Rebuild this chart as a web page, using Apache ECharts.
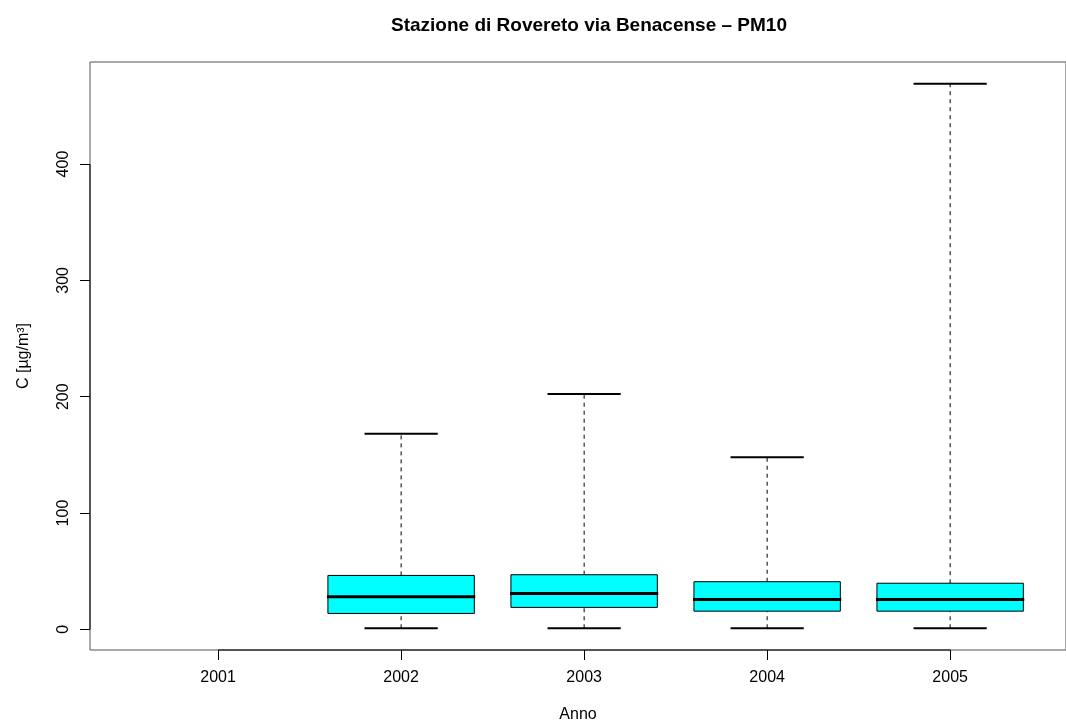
<!DOCTYPE html>
<html>
<head>
<meta charset="utf-8">
<script src="https://cdn.jsdelivr.net/npm/echarts@6/dist/echarts.min.js"></script>
<style>
    html, body { margin: 0; padding: 0; background: #fff; }
    #chart { width: 1066px; height: 728px; }
</style>
</head>
<body>
<div id="chart"></div>
<script>
// Dati (boxplot annuali PM10)
const years = ['2001', '2002', '2003', '2004', '2005'];
const lowWhisker = [null, 1, 1, 1, 1];
const q1 = [null, 13.7, 18.9, 15.7, 15.7];
const median = [null, 28.1, 30.9, 25.8, 25.8];
const q3 = [null, 46.4, 47.0, 41.0, 39.7];
const highWhisker = [null, 168.2, 202.3, 147.9, 469.0];
const yTicks = [0, 100, 200, 300, 400];

// posizioni 1..5 per le categorie, come in R
const xPositions = years.map((y, i) => i + 1);

// limiti degli assi (range di R esteso del 4%)
const X_MIN = 0.3, X_MAX = 5.633;
const Y_MIN = -17.7, Y_MAX = 487.7;

const boxData = [];
years.forEach((y, i) => {
    if (q1[i] == null) return;
    boxData.push([xPositions[i], lowWhisker[i], q1[i], median[i], q3[i], highWhisker[i]]);
});

const BOX_HALF = 0.4;
const CAP_HALF = 0.2;

function seg(a, b, style) {
    return {
        type: 'line',
        shape: { x1: a[0], y1: a[1], x2: b[0], y2: b[1] },
        style: Object.assign({ stroke: '#000', lineWidth: 1 }, style)
    };
}

function renderBox(params, api) {
    const x = api.value(0);
    const lo = api.value(1), b1 = api.value(2), md = api.value(3), b3 = api.value(4), hi = api.value(5);
    const p = (vx, vy) => api.coord([vx, vy]);
    const tl = p(x - BOX_HALF, b3);
    const br = p(x + BOX_HALF, b1);
    return {
        type: 'group',
        children: [
            seg(p(x, b3), p(x, hi), { lineDash: [4, 4] }),
            seg(p(x, lo), p(x, b1), { lineDash: [4, 4] }),
            seg(p(x - CAP_HALF, hi), p(x + CAP_HALF, hi), { lineWidth: 2 }),
            seg(p(x - CAP_HALF, lo), p(x + CAP_HALF, lo), { lineWidth: 2 }),
            {
                type: 'rect',
                shape: { x: tl[0], y: tl[1], width: br[0] - tl[0], height: br[1] - tl[1] },
                style: { fill: '#00ffff', stroke: '#000', lineWidth: 1 }
            },
            seg(p(x - BOX_HALF - 0.005, md), p(x + BOX_HALF + 0.005, md), { lineWidth: 3 })
        ]
    };
}

// linee degli assi come in R: solo tra il primo e l'ultimo tick
function renderAxisLines(params, api) {
    const p = (vx, vy) => api.coord([vx, vy]);
    const xFirst = xPositions[0], xLast = xPositions[xPositions.length - 1];
    const yFirst = yTicks[0], yLast = yTicks[yTicks.length - 1];
    return {
        type: 'group',
        children: [
            seg(p(xFirst, Y_MIN), p(xLast, Y_MIN)),
            seg(p(X_MIN, yFirst), p(X_MIN, yLast))
        ]
    };
}

const chart = echarts.init(document.getElementById('chart'), null, { renderer: 'canvas' });

chart.setOption({
    animation: false,
    backgroundColor: '#fff',
    textStyle: { fontFamily: 'Liberation Sans, Arial, sans-serif' },
    title: {
        text: 'Stazione di Rovereto via Benacense – PM10',
        left: 584,
        top: 11,
        textAlign: 'center',
        textStyle: { fontSize: 19, fontWeight: 'bold', color: '#000', fontFamily: 'Liberation Sans, Arial, sans-serif' }
    },
    grid: {
        left: 90,
        top: 62,
        width: 976,
        height: 589,
        show: true,
        borderColor: '#555',
        borderWidth: 1,
        backgroundColor: 'transparent'
    },
    xAxis: {
        type: 'value',
        min: X_MIN,
        max: X_MAX,
        name: 'Anno',
        nameLocation: 'middle',
        nameGap: 57,
        nameTextStyle: { fontSize: 16, color: '#000' },
        axisLine: { show: false, onZero: false },
        splitLine: { show: false },
        axisTick: { show: true, length: 10, customValues: xPositions, lineStyle: { color: '#000' } },
        axisLabel: {
            customValues: xPositions,
            formatter: v => years[Math.round(v) - 1],
            fontSize: 16,
            color: '#000',
            margin: 20
        }
    },
    yAxis: {
        type: 'value',
        min: Y_MIN,
        max: Y_MAX,
        name: 'C [µg/m³]',
        nameLocation: 'middle',
        nameRotate: 90,
        nameGap: 58,
        nameTextStyle: { fontSize: 16, color: '#000' },
        axisLine: { show: false, onZero: false },
        splitLine: { show: false },
        axisTick: { show: true, length: 10, customValues: yTicks, lineStyle: { color: '#000' } },
        axisLabel: {
            customValues: yTicks,
            rotate: 90,
            fontSize: 16,
            color: '#000',
            margin: 18
        }
    },
    series: [
        {
            type: 'custom',
            renderItem: renderAxisLines,
            data: [[xPositions[0], yTicks[0]]],
            silent: true,
            clip: false
        },
        {
            type: 'custom',
            renderItem: renderBox,
            data: boxData,
            encode: { x: 0, y: [1, 2, 3, 4, 5] },
            clip: false
        }
    ]
});
</script>
</body>
</html>
